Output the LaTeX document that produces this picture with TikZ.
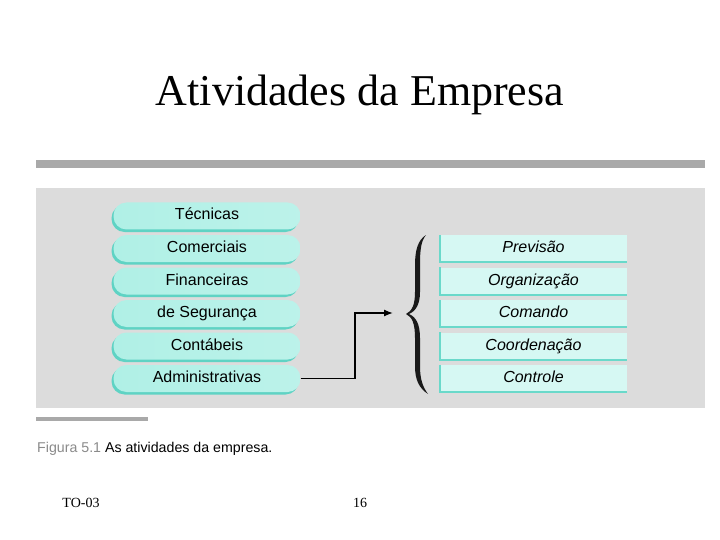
\documentclass[tikz,border=0pt]{standalone}
\usepackage{fontspec}
\setmainfont{Liberation Serif}
\newfontfamily\arial{Liberation Sans}
\usetikzlibrary{arrows.meta,shadows}
\definecolor{panelgray}{HTML}{DCDCDC}
\definecolor{bargray}{HTML}{A9A9A9}
\definecolor{pillcyan}{HTML}{B0F0E6}
\definecolor{pillteal}{HTML}{5FD3C4}
\definecolor{boxcyan}{HTML}{D6F8F3}
\definecolor{boxteal}{HTML}{6AD9CA}
\definecolor{capgray}{HTML}{8A8A8A}
\begin{document}
\begin{tikzpicture}[x=1pt, y=-1pt, >={Latex[length=9pt,width=7pt]},
    pill/.style={rounded corners=13pt, minimum width=187pt, minimum height=27pt,
        inner sep=0pt, text height=11pt, text depth=3pt,
        font=\arial\fontsize{16}{18}\selectfont,
        left color=pillcyan, middle color=white!85!pillcyan, right color=pillcyan!85,
        drop shadow={shadow xshift=-2pt, shadow yshift=-2.5pt, fill=pillteal, opacity=1}},
    task/.style={minimum width=187pt, minimum height=27pt, inner sep=0pt,
        text height=11pt, text depth=3pt,
        fill=boxcyan, font=\arial\itshape\fontsize{16}{18}\selectfont}]

    \useasboundingbox (0,0) rectangle (720,540);

    % titulo
    \node[font=\fontsize{44}{50}\selectfont] (title) at (360, 95) {Atividades da Empresa};

    % faixas e painel
    \fill[bargray] (36, 160) rectangle (705, 168);
    \fill[panelgray] (36, 188) rectangle (705, 408);
    \fill[bargray] (36, 417) rectangle (148, 421);

    % atividades
    \foreach \i/\t in {1/Técnicas, 2/Comerciais, 3/Financeiras, 4/de Segurança, 5/Contábeis, 6/Administrativas} {
        \pgfmathsetmacro{\y}{216 + (\i-1)*32.5}
        \node[pill] (a\i) at (207, \y) {\t};
    }

    % funcoes administrativas
    \foreach \i/\t in {1/Previsão, 2/Organização, 3/Comando, 4/Coordenação, 5/Controle} {
        \pgfmathsetmacro{\y}{248.5 + (\i-1)*32.5}
        \node[task] (f\i) at (533.5, \y) {\t};
        \draw[boxteal, line width=2pt] (f\i.north west) -- (f\i.south west) -- (f\i.south east);
    }

    % chave
    \fill[black!90] (426,235) .. controls (418,240) and (415,250) .. (415,265) -- (415,292)
        .. controls (415,305) and (412,311) .. (406,314)
        .. controls (412,317) and (415,323) .. (415,338) -- (415,366)
        .. controls (415,380) and (419,388) .. (428,394)
        .. controls (423,387) and (420,380) .. (420,366) -- (420,338)
        .. controls (420,324) and (416,317) .. (409,314)
        .. controls (416,311) and (420,304) .. (420,292) -- (420,265)
        .. controls (420,250) and (421,241) .. (426,235) -- cycle;

    % seta
    \coordinate (bend) at (355, 313);
    \coordinate (tip) at (393, 313);
    \draw[->, line width=1.3pt] (a6.east) -- (a6.east -| bend) -- (bend) -- (tip);

    % legenda
    \node[anchor=west, inner sep=0pt, font=\arial\fontsize{14.2}{16}\selectfont] (cap) at (37, 449)
        {\textcolor{capgray}{Figura 5.1} As atividades da empresa.};

    % rodape
    \node[font=\fontsize{14}{16}\selectfont] (ft1) at (81, 503) {TO-03};
    \node[font=\fontsize{14}{16}\selectfont] (ft2) at (360, 503) {16};

\end{tikzpicture}
\end{document}
